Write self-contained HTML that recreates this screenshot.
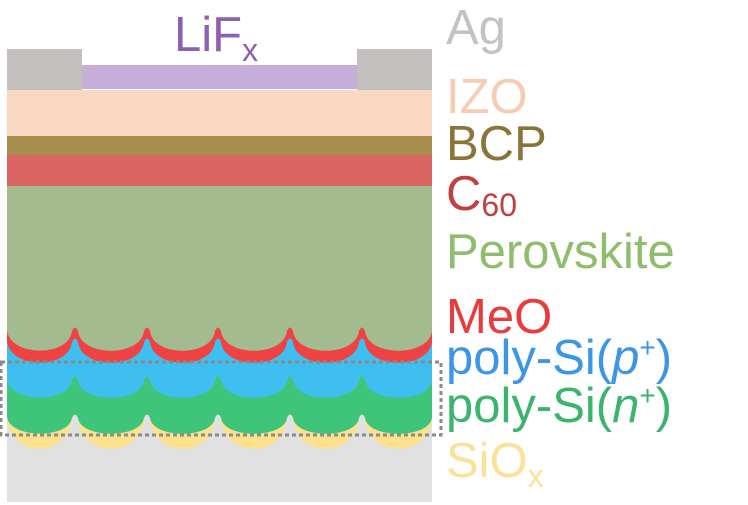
<!DOCTYPE html>
<html><head><meta charset="utf-8"><style>
html,body{margin:0;padding:0;background:#fff;}
svg{display:block;}
text{font-family:"Liberation Sans",Arial,sans-serif;}
</style></head><body>
<svg id="s" width="748" height="505" viewBox="0 0 748 505" xmlns="http://www.w3.org/2000/svg">
<rect x="7" y="330" width="425" height="172" fill="#e1e1e1"/>
<g id="waves"></g>
<rect x="7" y="155" width="425" height="31" fill="#d96461"/>
<rect x="7" y="136" width="425" height="19" fill="#a88e4e"/>
<rect x="7" y="90" width="425" height="46" fill="#f9d9c3"/>
<rect x="7" y="49" width="75" height="41" fill="#c2bfbe"/>
<rect x="357" y="49" width="75" height="41" fill="#c2bfbe"/>
<rect x="82" y="65" width="275" height="24" fill="#c5afd9"/>
<rect x="1" y="362" width="440" height="73" fill="none" stroke="#8a8a8a" stroke-width="3" stroke-dasharray="4,3"/>
<g font-size="49">
<text x="174" y="51" fill="#8e5fae">LiF<tspan font-size="32" dy="10">x</tspan></text>
<text x="446" y="44" fill="#c4c2c2">Ag</text>
<text x="446" y="113" fill="#f7ccb2">IZO</text>
<text x="446" y="160" fill="#8b7438">BCP</text>
<text x="446" y="210" fill="#c03f3f">C<tspan font-size="32" dy="6">60</tspan></text>
<text x="446" y="268" fill="#8fbd6d">Perovskite</text>
<text x="446" y="333" fill="#e83c3c">MeO</text>
<text x="446" y="374" fill="#3c96e3">poly-Si(<tspan font-style="italic">p</tspan><tspan font-size="28" dy="-17">+</tspan><tspan dy="17">)</tspan></text>
<text x="446" y="422" fill="#3cb46e">poly-Si(<tspan font-style="italic">n</tspan><tspan font-size="28" dy="-17">+</tspan><tspan dy="17">)</tspan></text>
<text x="446" y="477" fill="#fbe29a">SiO<tspan font-size="32" dy="10">x</tspan></text>
</g>
</svg>
<script>
(function(){
var xs=[7,75,147,218,290,362,432];
function path(yb,yc){
  var cy=yc+(yb-yc)/0.75;
  var d="M7,186 L7,"+(yc+2);
  for(var i=0;i<xs.length-1;i++){
    var a=xs[i],b=xs[i+1];
    var a2=(i==0?a:a+3),b2=(i==xs.length-2?b:b-3);
    if(i>0) d+=" L"+a2+","+(yc+3);
    d+=" C"+(a2+3)+","+cy+" "+(b2-3)+","+cy+" "+b2+","+(yc+3);
    if(i<xs.length-2) d+=" Q"+b+","+(yc-4)+" "+(b+3)+","+(yc+3);
  }
  d+=" L432,186 Z";
  return d;
}
var layers=[[448,415,"#fde18c"],[433,415,"#3fc57a"],[397,377,"#3ebff0"],[362,339,"#ef4343"],[350,328,"#a4bb90"]];
var g=document.getElementById("waves"),h="";
layers.forEach(function(l){h+='<path d="'+path(l[0],l[1])+'" fill="'+l[2]+'"/>';});
g.innerHTML=h;
})();
</script>
</body></html>
